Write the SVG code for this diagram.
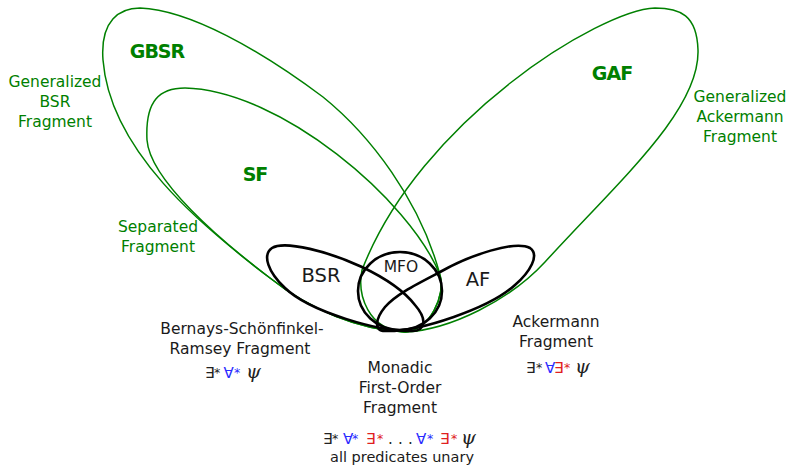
<svg xmlns="http://www.w3.org/2000/svg" width="791" height="465" viewBox="0 0 791 465">
<style>
.g{fill:none;stroke:#008000;stroke-width:1.5}
.k{fill:none;stroke:#000;stroke-width:2.6}
.gl{font-family:"DejaVu Sans",sans-serif;font-size:15.5px;fill:#008000;text-anchor:middle}
.gb{font-family:"DejaVu Sans",sans-serif;font-weight:bold;font-size:19px;fill:#008000;letter-spacing:-1px;text-anchor:middle}
.kl{font-family:"DejaVu Sans",sans-serif;font-size:15.5px;fill:#1a1a1a;text-anchor:middle}
.kn{font-family:"DejaVu Sans",sans-serif;font-size:19.5px;fill:#1a1a1a;text-anchor:middle}
.f{font-family:"DejaVu Sans",sans-serif;font-size:15px;fill:#222}
.s{font-size:12.5px}
.b{fill:#2b2bff}
.r{fill:#e02020}
.p{font-family:"DejaVu Serif",serif;font-style:italic;font-size:19px;fill:#222}
</style>
<g id="GBSR">
<path class="g" d="M405,332 C360,330 310,310 270,278 C200,225 110,150 103,60 C100,20 120,8 140,8 C190,10 260,50 323,97 C370,135 420,200 440,275 C446,295 430,330 405,332 Z"/>
<text class="gb" x="157" y="58">GBSR</text>
<text class="gl" x="55" y="87">Generalized</text>
<text class="gl" x="55" y="107">BSR</text>
<text class="gl" x="55" y="127">Fragment</text>
</g>
<g id="SF">
<path class="g" d="M405,332 C360,330 310,310 270,278 C220,240 150,180 147,140 C145,100 160,88 185,88 C280,90 410,200 440,275 C446,295 430,330 405,332 Z"/>
<text class="gb" x="255" y="181">SF</text>
<text class="gl" x="158" y="232">Separated</text>
<text class="gl" x="158" y="252">Fragment</text>
</g>
<g id="GAF">
<path class="g" d="M405,332 C450,330 510,300 545,262 C620,180 700,110 698,50 C697,15 680,8 655,8 C600,10 420,120 362,270 C357,295 368,330 405,332 Z"/>
<text class="gb" x="612" y="80">GAF</text>
<text class="gl" x="740" y="102">Generalized</text>
<text class="gl" x="740" y="122">Ackermann</text>
<text class="gl" x="740" y="142">Fragment</text>
</g>
<g id="BSR">
<path class="k" d="M412,331 C380,332 310,312 285,288 C268,272 262,255 272,248 C285,240 330,252 362,267 C385,278 405,292 415,305 C428,320 425,331 412,331 Z"/>
<text class="kn" x="321" y="282">BSR</text>
<text class="kl" x="242" y="334">Bernays-Schönfinkel-</text>
<text class="kl" x="240" y="354">Ramsey Fragment</text>
<text class="f"><tspan x="205" y="378">∃</tspan><tspan class="s" x="214" y="377">*</tspan><tspan class="b" x="223.5" y="378">∀</tspan><tspan class="b s" x="234" y="377">*</tspan><tspan class="p" x="246" y="378">ψ</tspan></text>
</g>
<g id="AF">
<path class="k" d="M385,331 C420,332 490,308 515,285 C530,272 540,255 530,248 C515,240 470,255 440,272 C415,285 395,295 385,307 C376,318 373,331 385,331 Z"/>
<text class="kn" x="478" y="286">AF</text>
<text class="kl" x="556" y="327">Ackermann</text>
<text class="kl" x="556" y="347">Fragment</text>
<text class="f"><tspan x="526" y="373">∃</tspan><tspan class="s" x="536" y="372">*</tspan><tspan class="b" x="545" y="373">∀</tspan><tspan class="r" x="554" y="373">∃</tspan><tspan class="r s" x="564" y="372">*</tspan><tspan class="p" x="575" y="373">ψ</tspan></text>
</g>
<g id="MFO">
<ellipse class="k" cx="400" cy="291" rx="42" ry="39"/>
<text class="kl" x="401" y="272">MFO</text>
<text class="kl" x="400" y="373">Monadic</text>
<text class="kl" x="400" y="393">First-Order</text>
<text class="kl" x="400" y="413">Fragment</text>
<text class="f"><tspan x="323" y="444">∃</tspan><tspan class="s" x="332" y="443">*</tspan><tspan class="b" x="343" y="444">∀</tspan><tspan class="b s" x="352" y="443">*</tspan><tspan class="r" x="366" y="444">∃</tspan><tspan class="r s" x="377" y="443">*</tspan><tspan x="388" y="444">.</tspan><tspan x="398" y="444">.</tspan><tspan x="408" y="444">.</tspan><tspan class="b" x="416" y="444">∀</tspan><tspan class="b s" x="427" y="443">*</tspan><tspan class="r" x="440" y="444">∃</tspan><tspan class="r s" x="451" y="443">*</tspan><tspan class="p" x="461" y="444">ψ</tspan></text>
<text class="kl" x="402" y="462" style="font-size:14.5px">all predicates unary</text>
</g>
</svg>
